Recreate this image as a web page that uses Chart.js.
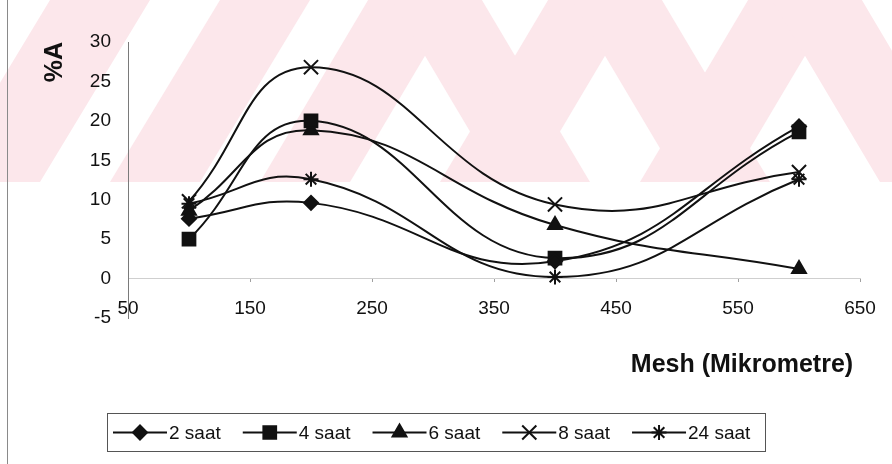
<!DOCTYPE html>
<html>
<head>
<meta charset="utf-8">
<script src="https://cdn.jsdelivr.net/npm/chart.js@4/dist/chart.umd.min.js"></script>
<style>
  html, body { margin: 0; padding: 0; background: #ffffff; }
  #wrap { width: 892px; height: 464px; position: relative; }
</style>
</head>
<body>
<div id="wrap"><canvas id="chart" width="892" height="464"></canvas></div>
<script>
// Sieve size (micrometre) on the x axis
const meshSizes = [100, 200, 400, 600];
// %A for each treatment time
const saat2  = [7.6, 9.6, 2.2, 19.3];
const saat4  = [5.0, 20.0, 2.6, 18.6];
const saat6  = [8.6, 18.8, 6.8, 1.2];
const saat8  = [9.8, 26.8, 9.4, 13.5];
const saat24 = [9.5, 12.6, 0.2, 12.6];

const seriesNames  = ['2 saat', '4 saat', '6 saat', '8 saat', '24 saat'];
const seriesValues = [saat2, saat4, saat6, saat8, saat24];
const markerStyles = ['rectRot', 'rect', 'triangle', 'crossRot', 'star'];
const markerSizes  = [7, 9, 8, 10, 7.5];

const xTicks = [50, 150, 250, 350, 450, 550, 650];
const yTicks = [-5, 0, 5, 10, 15, 20, 25, 30];

const FONT = '"Liberation Sans", Arial, sans-serif';
const INK = '#111111';

const datasets = seriesNames.map((name, i) => ({
  label: name,
  data: meshSizes.map((x, j) => ({ x, y: seriesValues[i][j] })),
  showLine: true,
  tension: 0.45,
  borderColor: INK,
  borderWidth: 2,
  backgroundColor: INK,
  pointStyle: markerStyles[i],
  pointRadius: markerSizes[i],
  pointBorderColor: INK,
  pointBackgroundColor: INK,
  pointBorderWidth: 2,
  clip: false
}));

// Pale watermark behind the plot
const watermark = {
  id: 'watermark',
  beforeDraw(chart) {
    const ctx = chart.ctx;
    ctx.save();
    ctx.fillStyle = '#ffffff';
    ctx.fillRect(0, 0, chart.width, chart.height);
    ctx.beginPath();
    ctx.rect(0, 0, chart.width, 182);
    ctx.clip();
    ctx.fillStyle = '#fce7eb';
    const bands = [
      [[-60, 182], [40, 182], [150, 0], [50, 0]],
      [[110, 182], [200, 182], [310, 0], [220, 0]],
      [[260, 182], [350, 182], [470, -20], [380, -20]],
      [[380, -20], [470, -20], [590, 182], [500, 182]],
      [[440, 182], [530, 182], [650, -20], [560, -20]],
      [[560, -20], [650, -20], [770, 182], [680, 182]],
      [[640, 182], [730, 182], [850, -20], [760, -20]],
      [[760, -20], [850, -20], [970, 182], [880, 182]]
    ];
    bands.forEach(b => {
      ctx.beginPath();
      ctx.moveTo(b[0][0], b[0][1]);
      for (let k = 1; k < b.length; k++) ctx.lineTo(b[k][0], b[k][1]);
      ctx.closePath();
      ctx.fill();
    });
    ctx.restore();
  }
};

// Frame line on the left and the boxed legend under the plot
const frameAndLegend = {
  id: 'frameAndLegend',
  afterDraw(chart) {
    const ctx = chart.ctx;
    ctx.save();
    ctx.strokeStyle = '#8a8a8a';
    ctx.lineWidth = 1;
    ctx.beginPath();
    ctx.moveTo(7.5, 0);
    ctx.lineTo(7.5, 464);
    ctx.stroke();

    // legend box
    const box = { left: 107.5, top: 413.5, right: 765.5, bottom: 451.5 };
    ctx.strokeStyle = '#555555';
    ctx.strokeRect(box.left, box.top, box.right - box.left, box.bottom - box.top);

    const midY = (box.top + box.bottom) / 2;
    const lineLen = 54;
    const itemGap = 22;
    ctx.font = '19px ' + FONT;
    ctx.textBaseline = 'middle';
    ctx.textAlign = 'left';
    let x0 = 113;
    chart.data.datasets.forEach((ds) => {
      ctx.strokeStyle = INK;
      ctx.fillStyle = INK;
      ctx.lineWidth = 2;
      ctx.beginPath();
      ctx.moveTo(x0, midY);
      ctx.lineTo(x0 + lineLen, midY);
      ctx.stroke();
      Chart.helpers.drawPoint(ctx, {
        pointStyle: ds.pointStyle,
        radius: ds.pointRadius,
        borderWidth: 2,
        rotation: 0
      }, x0 + lineLen / 2, midY);
      ctx.fillStyle = INK;
      ctx.fillText(ds.label, x0 + lineLen + 2, midY + 1);
      x0 += lineLen + 2 + ctx.measureText(ds.label).width + itemGap;
    });
    ctx.restore();
  }
};

Chart.defaults.font.family = FONT;

const chart = new Chart(document.getElementById('chart'), {
  type: 'scatter',
  data: { datasets },
  options: {
    responsive: false,
    animation: false,
    devicePixelRatio: 1,
    layout: { padding: { left: 0, top: 42, right: 32, bottom: 146 } },
    plugins: {
      legend: { display: false },
      tooltip: { enabled: false }
    },
    scales: {
      x: {
        type: 'linear',
        min: 50,
        max: 650,
        position: { y: 0 },
        afterBuildTicks: s => { s.ticks = xTicks.map(v => ({ value: v })); },
        grid: { drawOnChartArea: false, drawTicks: true, tickLength: 3, color: '#a0a0a0' },
        border: { display: true, color: '#cfcfcf', width: 1, dash: [2, 4] },
        ticks: { padding: 16, color: INK, font: { size: 19, family: FONT }, maxRotation: 0 }
      },
      y: {
        type: 'linear',
        min: -5,
        max: 30,
        position: 'left',
        afterBuildTicks: s => { s.ticks = yTicks.map(v => ({ value: v })); },
        afterFit: s => { s.width = 128; },
        grid: { drawOnChartArea: false, drawTicks: false },
        border: { display: true, color: '#7a7a7a', width: 1 },
        ticks: { padding: 17, color: INK, font: { size: 19, family: FONT } },
        title: {
          display: true,
          text: '%A',
          align: 'end',
          color: INK,
          font: { size: 25, weight: 'bold', family: FONT },
          padding: { top: 40, bottom: 0 }
        }
      }
    }
  },
  plugins: [watermark, frameAndLegend, {
    id: 'xTitle',
    afterDraw(chart) {
      const ctx = chart.ctx;
      ctx.save();
      ctx.font = 'bold 25px ' + FONT;
      ctx.fillStyle = INK;
      ctx.textAlign = 'center';
      ctx.textBaseline = 'middle';
      ctx.fillText('Mesh (Mikrometre)', 742, 365);
      ctx.restore();
    }
  }]
});
</script>
</body>
</html>
